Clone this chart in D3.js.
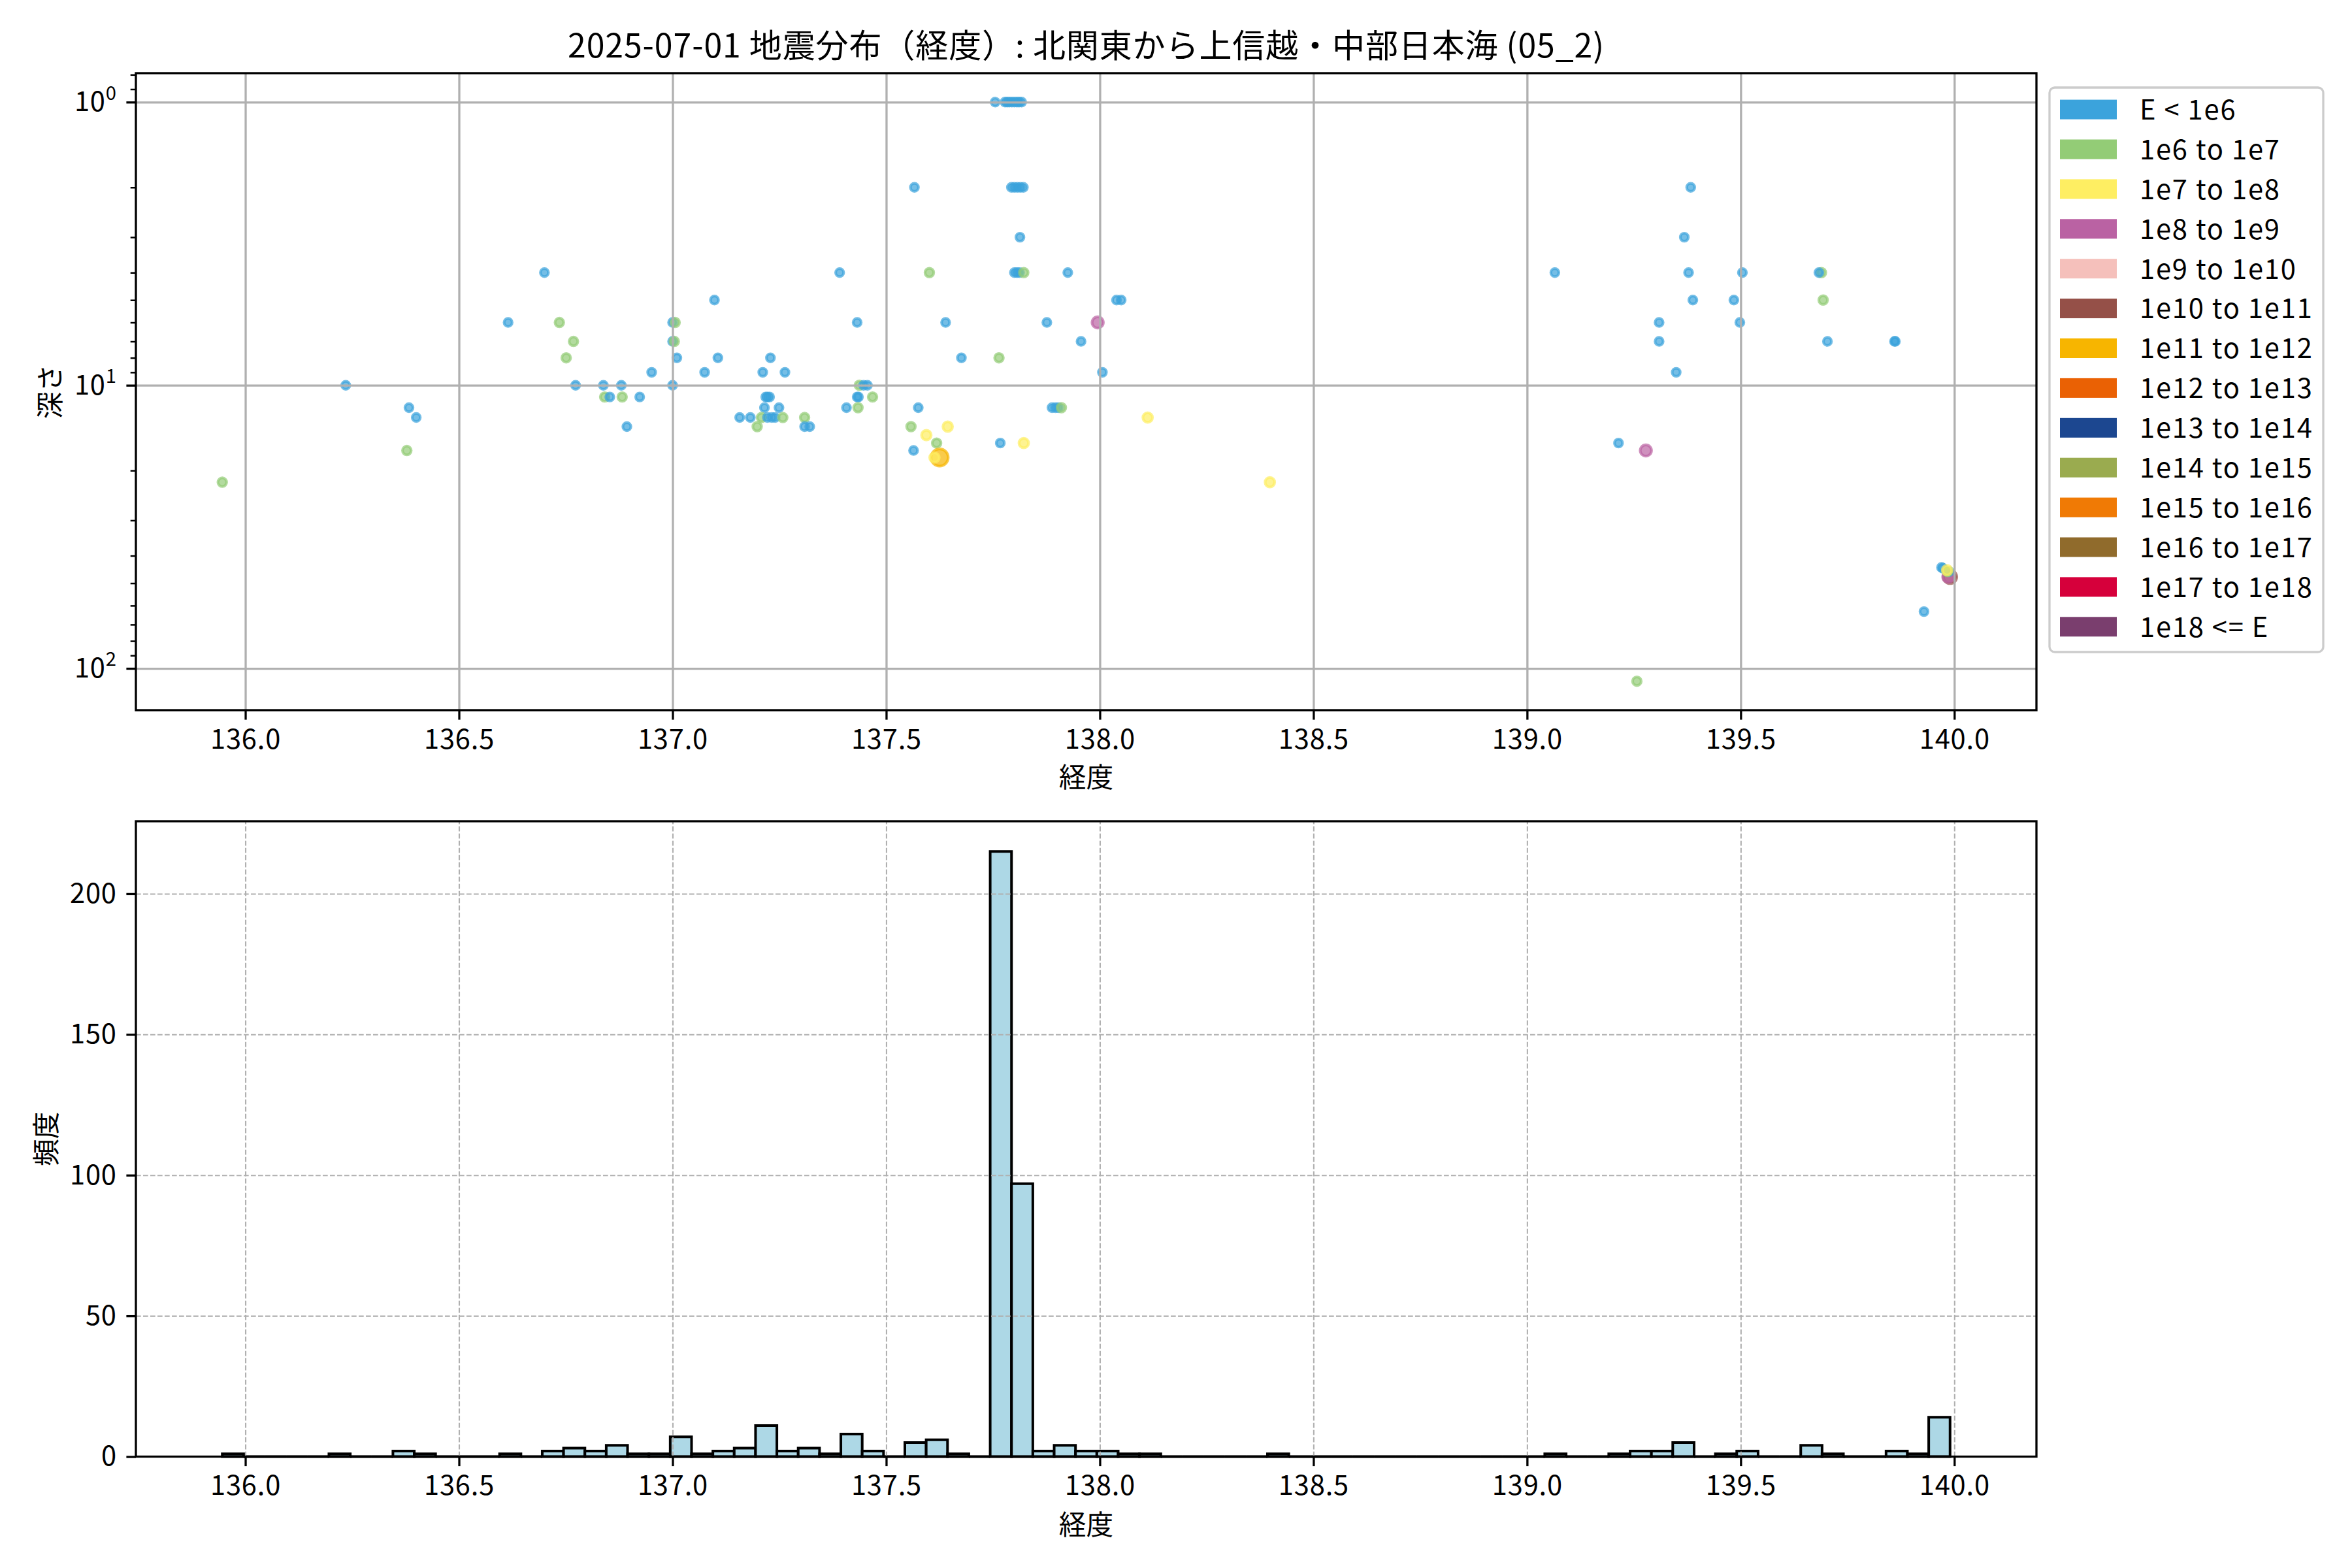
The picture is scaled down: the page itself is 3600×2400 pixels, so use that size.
<!DOCTYPE html>
<html><head><meta charset="utf-8">
<script src="https://cdn.jsdelivr.net/npm/d3@7"></script>
<style>body{margin:0;background:#fff}</style>
</head><body>
<svg id="c" width="3600" height="2400" xmlns="http://www.w3.org/2000/svg"></svg>
<script>
// ---------------- DATA ----------------
const chartTitle = "2025-07-01 地震分布（経度）: 北関東から上信越・中部日本海 (05_2)";
const xLabel = "経度";
const yLabelTop = "深さ";
const yLabelBottom = "頻度";

const energyLabels = ["E < 1e6","1e6 to 1e7","1e7 to 1e8","1e8 to 1e9","1e9 to 1e10","1e10 to 1e11",
  "1e11 to 1e12","1e12 to 1e13","1e13 to 1e14","1e14 to 1e15","1e15 to 1e16","1e16 to 1e17",
  "1e17 to 1e18","1e18 <= E"];
const energyColors = ["#3ba3dc","#93cc76","#feee62","#ba62a3","#f5c0bb","#955048",
  "#f7b500","#ea6104","#1c4790","#9aab4f","#f07a05","#906b2c","#d6003b","#7a3e6e"];

// scatter: longitude, depth (km), energy class index
const quakeLon = [
 135.946,136.235,136.383,136.400,136.378,136.615,136.700,136.735,136.768,136.751,
 136.773,136.838,136.880,136.841,136.853,136.882,136.923,136.893,136.951,137.000,
 137.006,137.000,137.004,137.010,137.000,137.075,137.098,137.106,137.211,137.229,
 137.263,137.218,137.222,137.227,137.215,137.249,137.157,137.182,137.208,137.222,
 137.232,137.240,137.258,137.198,137.309,137.309,137.321,137.391,137.432,137.437,
 137.447,137.456,137.432,137.435,137.468,137.407,137.434,137.566,137.601,137.639,
 137.676,137.764,137.575,137.558,137.594,137.644,137.618,137.564,137.625,137.613,
 137.767,137.822,
 137.755,137.778,137.783,137.788,137.794,137.800,137.806,137.811,137.817,
 137.793,137.800,137.807,137.814,137.821,
 137.813,137.800,137.806,137.812,137.822,137.925,137.876,137.956,137.995,138.006,
 138.039,138.050,137.888,137.896,137.903,137.910,138.112,138.398,
 139.065,139.383,139.368,139.378,139.504,139.388,139.484,139.309,139.498,139.309,
 139.349,139.689,139.683,139.693,139.703,139.860,139.862,139.214,139.278,139.257,
 139.929,139.990,139.986,139.970,139.973,139.988,139.984,139.983];
const quakeDepth = [
 22,10,12,13,17,6,4,6,7,8,
 10,10,10,11,11,11,11,14,9,6,
 6,7,7,8,10,9,5,8,9,8,
 9,11,11,11,12,12,13,13,13,13,
 13,13,13,14,13,14,14,4,6,10,
 10,10,11,11,11,12,12,2,4,6,
 8,8,12,14,15,14,16,17,18,18,
 16,16,
 1,1,1,1,1,1,1,1,1,
 2,2,2,2,2,
 3,4,4,4,4,4,6,7,6,9,
 5,5,12,12,12,12,13,22,
 4,2,3,4,4,5,5,6,6,7,
 9,4,4,5,7,7,7,16,17,111,
 63,47.5,47.5,44,44.3,45.5,45.5,45];
const quakeClass = [
 1,0,0,0,1,0,0,1,1,1,
 0,0,0,1,0,1,0,0,0,0,
 1,0,1,0,0,0,0,0,0,0,
 0,0,0,0,0,0,0,0,1,0,
 0,0,1,1,1,0,0,0,0,1,
 0,0,0,0,1,0,1,0,1,0,
 0,1,0,1,2,2,1,0,6,2,
 0,2,
 0,0,0,0,0,0,0,0,0,
 0,0,0,0,0,
 0,0,0,0,1,0,0,0,3,0,
 0,0,0,0,0,1,2,2,
 0,0,0,0,0,0,0,0,0,0,
 0,1,0,1,0,0,0,0,3,1,
 0,5,3,0,0,0,1,2];

// histogram: range of longitudes and counts per bin (81 equal bins)
const histRange = [135.946, 139.990];
const histCounts = [
 1,0,0,0,0,1,0,0,2,1,
 0,0,0,1,0,2,3,2,4,1,
 1,7,1,2,3,11,2,3,1,8,
 2,0,5,6,1,0,215,97,2,4,
 2,2,1,1,0,0,0,0,0,1,
 0,0,0,0,0,0,0,0,0,0,
 0,0,1,0,0,1,2,2,5,0,
 1,2,0,0,4,1,0,0,2,1,
 14];

const xTicks = [136.0,136.5,137.0,137.5,138.0,138.5,139.0,139.5,140.0];
const depthTicks = [1,10,100];
const depthTickExp = ["0","1","2"];
const countTicks = [0,50,100,150,200];

// ---------------- LAYOUT / STYLE ----------------
const FONT = '"Noto Sans CJK JP","Noto Sans",sans-serif';
const fsTick = 41.7, fsTitle = 50;
const axL = 208, axR = 3117;
const P1 = {t:112, b:1087};
const P2 = {t:1257, b:2229.5};
const majorLen = 14.6, minorLen = 8.3, tickPad = 14.6;
const spineW = 3.3;
const classRadius = [6.1,6.6,7.3,8.6,9.4,10.2,13.1,13.5,14,14.5,15,15.5,16,16.5];

const svg = d3.select("#c");
svg.append("rect").attr("width",3600).attr("height",2400).attr("fill","#fff");

// ---------------- SCALES ----------------
const lonExt = d3.extent(quakeLon.concat(histRange));
const lpad = (lonExt[1]-lonExt[0])*0.05;
const x = d3.scaleLinear().domain([lonExt[0]-lpad, lonExt[1]+lpad]).range([axL, axR]);

const dExt = d3.extent(quakeDepth);
const lg0 = Math.log10(dExt[0]), lg1 = Math.log10(dExt[1]);
const lgp = (lg1-lg0)*0.05;
const y1 = d3.scaleLog().domain([Math.pow(10,lg0-lgp), Math.pow(10,lg1+lgp)]).range([P1.t, P1.b]);

const y2 = d3.scaleLinear().domain([0, d3.max(histCounts)*1.05]).range([P2.b, P2.t]);

// ---------------- TITLE ----------------
svg.append("text").attr("x",(axL+axR)/2).attr("y",88).attr("text-anchor","middle")
  .attr("font-family",FONT).attr("font-size",fsTitle).attr("letter-spacing",0.9)
  .attr("fill","#000").text(chartTitle);

function styleAxis(g, w){
  g.attr("font-family",FONT).attr("font-size",fsTick);
  g.select(".domain").remove();
  g.selectAll(".tick line").attr("stroke","#000").attr("stroke-width",w);
  g.selectAll(".tick text").attr("fill","#000").attr("letter-spacing",0.8);
}

// ---------------- TOP: SCATTER ----------------
svg.append("clipPath").attr("id","clip1").append("rect")
  .attr("x",axL).attr("y",P1.t).attr("width",axR-axL).attr("height",P1.b-P1.t);

const pts = svg.append("g").attr("clip-path","url(#clip1)");
pts.selectAll("circle").data(quakeLon.map((d,i)=>i)).join("circle")
  .attr("cx",i=>x(quakeLon[i])).attr("cy",i=>y1(quakeDepth[i]))
  .attr("r",i=>classRadius[quakeClass[i]])
  .attr("fill",i=>energyColors[quakeClass[i]]).attr("fill-opacity",0.7)
  .attr("stroke",i=>energyColors[quakeClass[i]]).attr("stroke-opacity",0.7)
  .attr("stroke-width",4.2);

// grid (drawn over the points, like matplotlib's default)
const g1gx = svg.append("g").attr("transform",`translate(0,${P1.b})`)
  .call(d3.axisBottom(x).tickValues(xTicks).tickSize(-(P1.b-P1.t)).tickFormat(""));
g1gx.select(".domain").remove();
g1gx.selectAll("line").attr("stroke","#b0b0b0").attr("stroke-width",3.3);
const g1gy = svg.append("g").attr("transform",`translate(${axL},0)`)
  .call(d3.axisLeft(y1).tickValues(depthTicks).tickSize(-(axR-axL)).tickFormat(""));
g1gy.select(".domain").remove();
g1gy.selectAll("line").attr("stroke","#b0b0b0").attr("stroke-width",3.3);

// axes
const ax1x = svg.append("g").attr("transform",`translate(0,${P1.b})`)
  .call(d3.axisBottom(x).tickValues(xTicks).tickSize(majorLen).tickPadding(tickPad).tickFormat(d3.format(".1f")));
styleAxis(ax1x, spineW);

const minorDepth = [];
[0.1,1,10,100].forEach(b=>{for(let k=2;k<10;k++){const v=b*k; const dm=y1.domain(); if(v>=dm[0]&&v<=dm[1]) minorDepth.push(v);}});
const ax1m = svg.append("g").attr("transform",`translate(${axL},0)`)
  .call(d3.axisLeft(y1).tickValues(minorDepth).tickSize(minorLen).tickFormat(""));
styleAxis(ax1m, 2.5);

const ax1y = svg.append("g").attr("transform",`translate(${axL},0)`)
  .call(d3.axisLeft(y1).tickValues(depthTicks).tickSize(majorLen).tickPadding(tickPad).tickFormat(""));
styleAxis(ax1y, spineW);
ax1y.selectAll(".tick text").each(function(d,i){
  const t = d3.select(this);
  t.text(null);
  t.append("tspan").text("10");
  t.append("tspan").attr("font-size",fsTick*0.7).attr("dy","-0.6em").text(depthTickExp[depthTicks.indexOf(d)]);
});

svg.append("rect").attr("x",axL).attr("y",P1.t).attr("width",axR-axL).attr("height",P1.b-P1.t)
  .attr("fill","none").attr("stroke","#000").attr("stroke-width",spineW);

svg.append("text").attr("x",(axL+axR)/2).attr("y",1205).attr("text-anchor","middle")
  .attr("font-family",FONT).attr("font-size",fsTick).text(xLabel);
svg.append("text").attr("transform",`translate(92,${(P1.t+P1.b)/2}) rotate(-90)`).attr("text-anchor","middle")
  .attr("font-family",FONT).attr("font-size",fsTick).text(yLabelTop);

// legend
const lg = svg.append("g");
lg.append("rect").attr("x",3137).attr("y",134).attr("width",419).attr("height",864).attr("rx",8)
  .attr("fill","#fff").attr("fill-opacity",0.8).attr("stroke","#cccccc").attr("stroke-width",3.3);
const rowY = i => 167.6 + i*60.9;
lg.selectAll("rect.p").data(energyLabels).join("rect").attr("class","p")
  .attr("x",3153).attr("y",(d,i)=>rowY(i)-15).attr("width",87).attr("height",30)
  .attr("fill",(d,i)=>energyColors[i]);
lg.selectAll("text").data(energyLabels).join("text")
  .attr("x",3275).attr("y",(d,i)=>rowY(i)+15.3).attr("letter-spacing",1.8)
  .attr("font-family",FONT).attr("font-size",fsTick).attr("fill","#000").text(d=>d);

// ---------------- BOTTOM: HISTOGRAM ----------------
const binW = (histRange[1]-histRange[0])/histCounts.length;
svg.append("g").selectAll("path").data(histCounts).join("path")
  .attr("d",(c,i)=>{
    const x0 = x(histRange[0]+i*binW), x1 = x(histRange[0]+(i+1)*binW);
    const yb = y2(0), yt = y2(c);
    return `M${x0},${yb}V${yt}H${x1}V${yb}Z`;
  })
  .attr("fill","#add8e6").attr("stroke","#000").attr("stroke-width",4);

const g2gx = svg.append("g").attr("transform",`translate(0,${P2.b})`)
  .call(d3.axisBottom(x).tickValues(xTicks).tickSize(-(P2.b-P2.t)).tickFormat(""));
g2gx.select(".domain").remove();
g2gx.selectAll("line").attr("stroke","#b0b0b0").attr("stroke-width",2.1).attr("stroke-dasharray","7.7,3.3");
const g2gy = svg.append("g").attr("transform",`translate(${axL},0)`)
  .call(d3.axisLeft(y2).tickValues(countTicks).tickSize(-(axR-axL)).tickFormat(""));
g2gy.select(".domain").remove();
g2gy.selectAll("line").attr("stroke","#b0b0b0").attr("stroke-width",2.1).attr("stroke-dasharray","7.7,3.3");

const ax2x = svg.append("g").attr("transform",`translate(0,${P2.b})`)
  .call(d3.axisBottom(x).tickValues(xTicks).tickSize(majorLen).tickPadding(tickPad).tickFormat(d3.format(".1f")));
styleAxis(ax2x, spineW);
const ax2y = svg.append("g").attr("transform",`translate(${axL},0)`)
  .call(d3.axisLeft(y2).tickValues(countTicks).tickSize(majorLen).tickPadding(tickPad).tickFormat(d3.format("d")));
styleAxis(ax2y, spineW);

svg.append("rect").attr("x",axL).attr("y",P2.t).attr("width",axR-axL).attr("height",P2.b-P2.t)
  .attr("fill","none").attr("stroke","#000").attr("stroke-width",spineW);

svg.append("text").attr("x",(axL+axR)/2).attr("y",2349).attr("text-anchor","middle")
  .attr("font-family",FONT).attr("font-size",fsTick).text(xLabel);
svg.append("text").attr("transform",`translate(86,${(P2.t+P2.b)/2}) rotate(-90)`).attr("text-anchor","middle")
  .attr("font-family",FONT).attr("font-size",fsTick).text(yLabelBottom);
</script>
</body></html>
